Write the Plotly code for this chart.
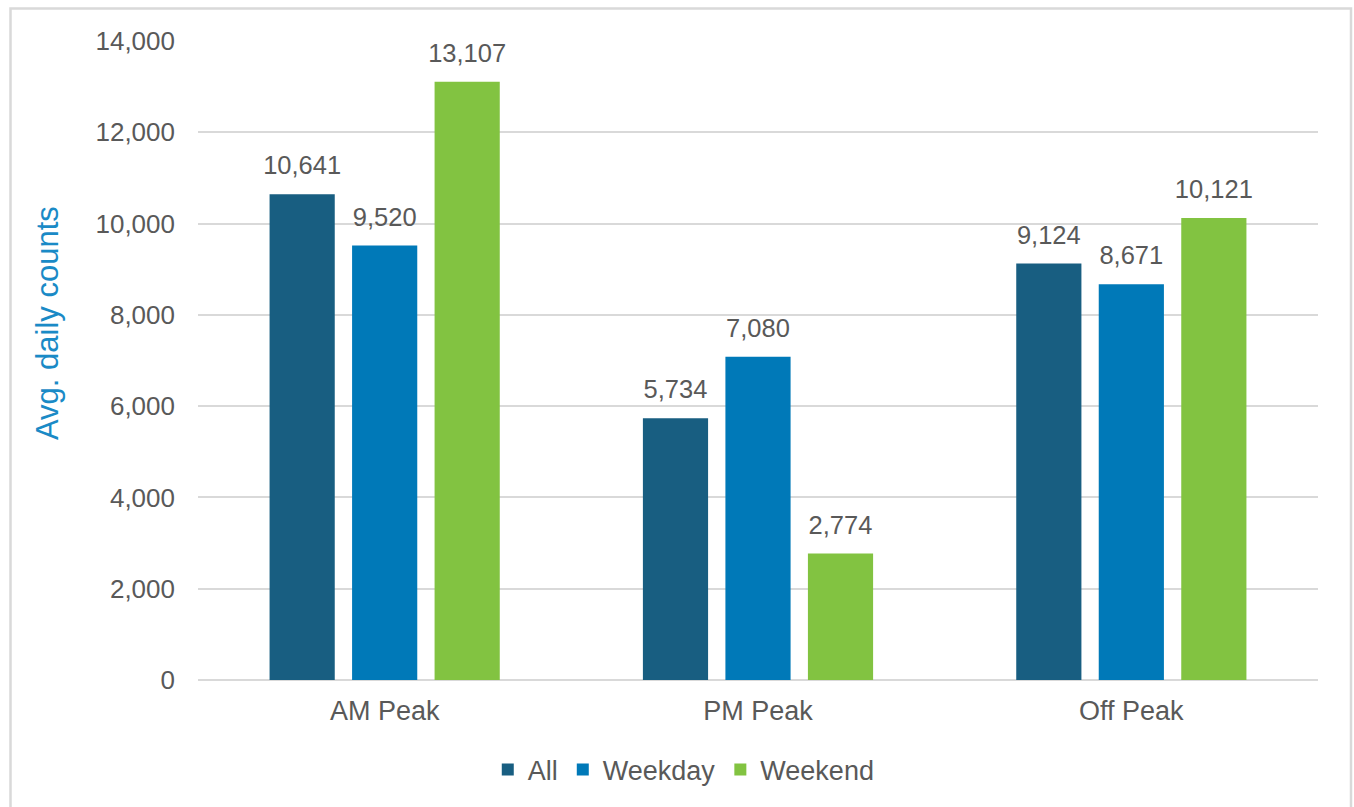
import plotly.graph_objects as go

# Average daily counts by time period and day type
periods = ["AM Peak", "PM Peak", "Off Peak"]
all_days = [10641, 5734, 9124]
weekday = [9520, 7080, 8671]
weekend = [13107, 2774, 10121]

series_names = ["All", "Weekday", "Weekend"]
series_values = [all_days, weekday, weekend]
series_colors = ["#185E81", "#0079B8", "#82C341"]

y_ticks = [0, 2000, 4000, 6000, 8000, 10000, 12000, 14000]

FONT = "Liberation Sans, Arial, sans-serif"
TEXT_GRAY = "#595959"
GRID = "#D9D9D9"

# plot area in pixels
L, R, T, B = 198, 1318, 41, 680
W, H = 1354, 807

fig = go.Figure()

for i, (name, vals, col) in enumerate(zip(series_names, series_values, series_colors)):
    fig.add_trace(go.Bar(
        x=periods, y=vals, name=name,
        marker=dict(color=col, line=dict(width=0)),
        offsetgroup=str(i),
        hoverinfo="x+y+name",
    ))

# value labels, grouped the same way as the bars so each sits over its bar
for i, (name, vals) in enumerate(zip(series_names, series_values)):
    fig.add_trace(go.Scatter(
        x=periods, y=vals, mode="markers+text",
        text=[f"{v:,}" for v in vals],
        textposition="top center",
        textfont=dict(family=FONT, size=25.5, color=TEXT_GRAY),
        marker=dict(size=20, color="rgba(0,0,0,0)"),
        offsetgroup=str(i),
        showlegend=False, hoverinfo="skip", cliponaxis=False,
    ))

# light frame around the chart
fig.add_shape(
    type="rect", xref="paper", yref="paper",
    x0=(10.5 - L) / (R - L), x1=(1351 - L) / (R - L),
    y0=(B - 840) / (B - T), y1=(B - 8.5) / (B - T),
    line=dict(color=GRID, width=2.5), fillcolor="rgba(0,0,0,0)", layer="below",
)

# y-axis title
fig.add_annotation(
    text="Avg. daily counts", textangle=-90,
    xref="paper", yref="paper",
    x=(47 - L) / (R - L), y=(B - 323) / (B - T),
    xanchor="center", yanchor="middle", showarrow=False,
    font=dict(family=FONT, size=31, color="#1A8AC6"),
)

fig.update_layout(
    width=W, height=H,
    margin=dict(l=L, r=W - R, t=T, b=H - B, autoexpand=False),
    paper_bgcolor="white", plot_bgcolor="white",
    barmode="group", bargap=0.337, bargroupgap=0.21,
    scattermode="group", scattergap=0.337,
    font=dict(family=FONT, color=TEXT_GRAY),
    showlegend=True,
    legend=dict(
        orientation="h", xref="container", yref="container",
        x=0.505, xanchor="center", y=0.046, yanchor="middle",
        font=dict(family=FONT, size=27, color=TEXT_GRAY),
        itemwidth=30, traceorder="normal", bgcolor="rgba(0,0,0,0)",
    ),
)

fig.update_xaxes(
    type="category", showgrid=False, showline=False, zeroline=False,
    ticks="", tickfont=dict(family=FONT, size=27, color=TEXT_GRAY),
    ticklabelstandoff=12,
)

fig.update_yaxes(
    range=[0, 14000], tickvals=y_ticks,
    ticktext=[f"{v:,}" for v in y_ticks],
    showgrid=True, gridcolor=GRID, gridwidth=2,
    zeroline=True, zerolinecolor=GRID, zerolinewidth=2,
    showline=False, ticks="",
    tickfont=dict(family=FONT, size=26, color=TEXT_GRAY),
    ticklabelstandoff=22,
)

fig.write_html("out.html")
